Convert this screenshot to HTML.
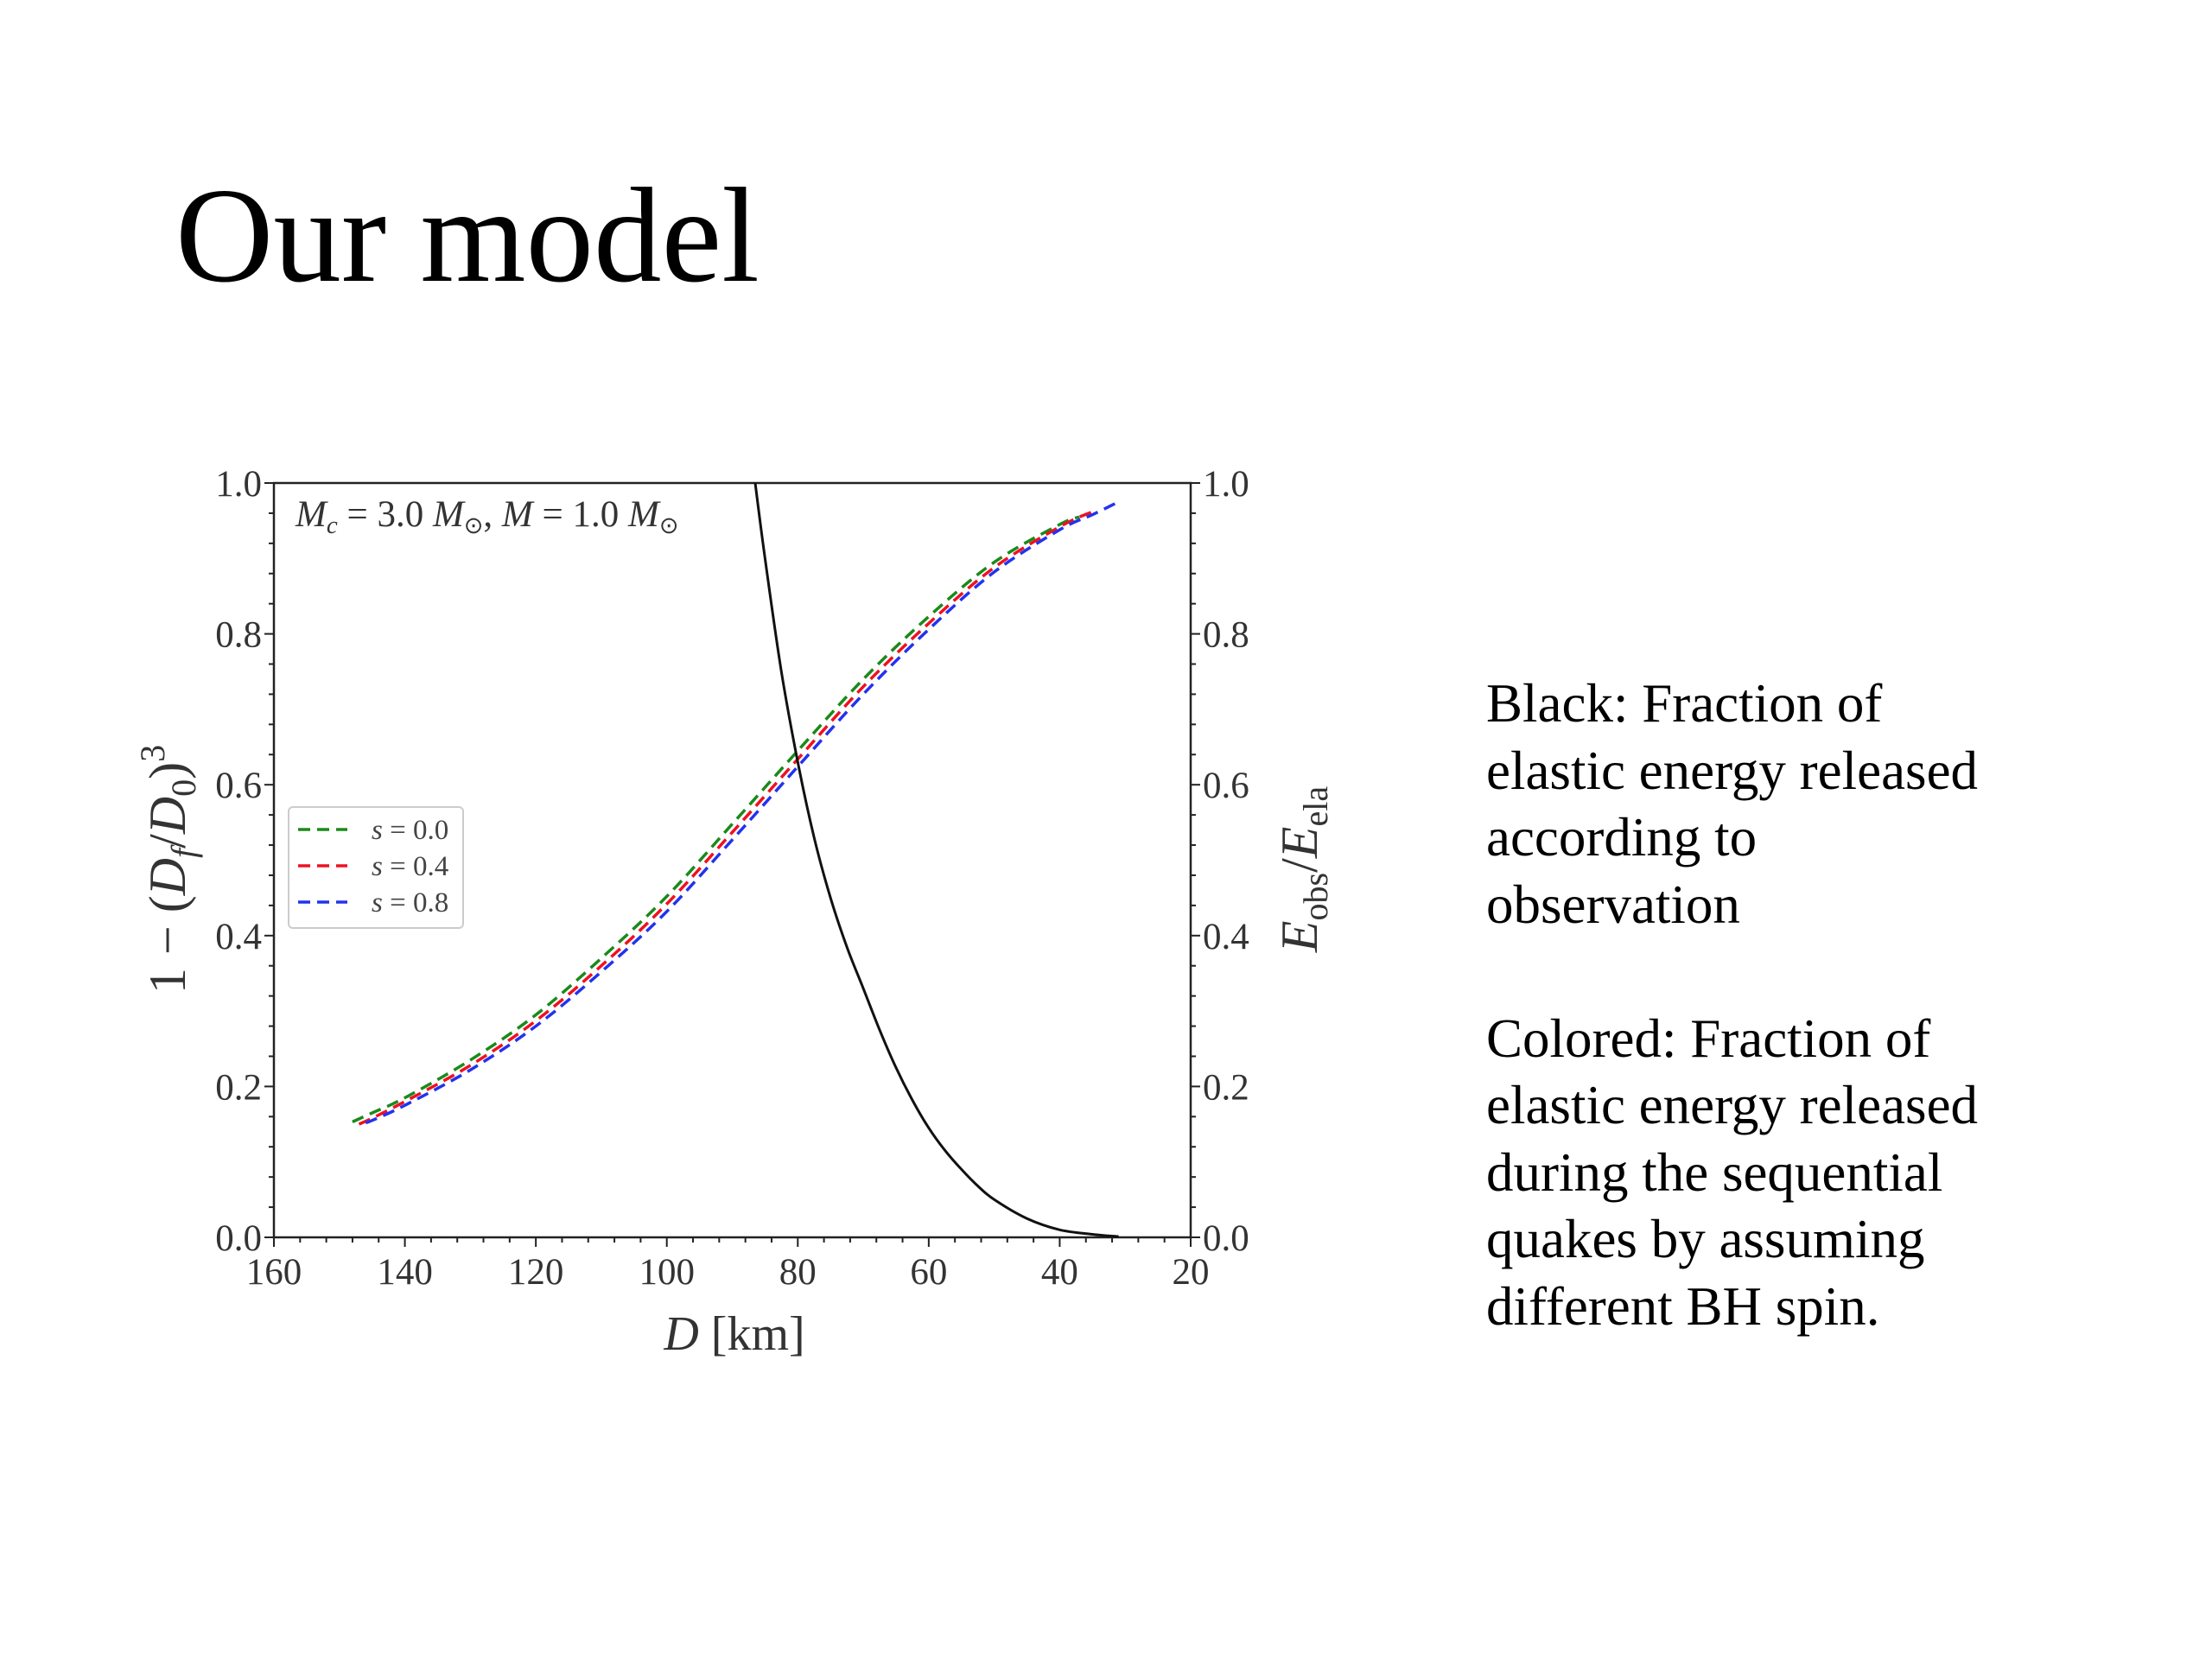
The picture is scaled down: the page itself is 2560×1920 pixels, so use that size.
<!DOCTYPE html>
<html><head><meta charset="utf-8"><style>
html,body{margin:0;padding:0;background:#fff;}
body{width:2560px;height:1920px;position:relative;overflow:hidden;font-family:"Liberation Serif",serif;}
#title{position:absolute;left:203px;top:194px;font-size:157px;line-height:1;margin:0;font-weight:normal;color:#000;}
#desc{position:absolute;left:1720px;top:776px;font-size:63px;line-height:77.5px;color:#000;}
#desc p{margin:0 0 77.5px 0;}
svg{position:absolute;left:0;top:0;}
</style></head><body>
<h1 id="title">Our model</h1>
<div id="desc">
<p>Black: Fraction of<br>elastic energy released<br>according to<br>observation</p>
<p>Colored: Fraction of<br>elastic energy released<br>during the sequential<br>quakes by assuming<br>different BH spin.</p>
</div>
<svg id="chart" width="2560" height="1920" font-family="Liberation Serif, serif"></svg>
<script>
const xTicks=[160,140,120,100,80,60,40,20];
const yTicks=[0.0,0.2,0.4,0.6,0.8,1.0];
const greenD=[148,145,140,130,120,110,100,90,80,70,60,50,40,37];
const greenV=[0.153,0.165,0.185,0.235,0.295,0.37,0.452,0.548,0.645,0.74,0.823,0.895,0.945,0.955];
const redD=[147,145,140,130,120,110,100,90,80,70,60,50,40,35];
const redV=[0.150,0.158,0.180,0.228,0.287,0.36,0.442,0.537,0.634,0.73,0.814,0.888,0.942,0.962];
const blueD=[146,145,140,130,120,110,100,90,80,70,60,50,40,35,31];
const blueV=[0.152,0.155,0.175,0.222,0.28,0.352,0.432,0.527,0.624,0.72,0.806,0.882,0.938,0.958,0.975];
const blackD=[86.5,85,82.5,80,77.5,75,72.5,70,67.5,65,62.5,60,57.5,55,52.5,50,45,40,35,31];
const blackV=[1.0,0.90,0.75,0.63,0.53,0.45,0.385,0.33,0.275,0.225,0.182,0.145,0.115,0.09,0.068,0.05,0.025,0.01,0.004,0.001];
const L=317,R=1378,T=559,B=1432;
const sx=d=>L+(160-d)/(160-20)*(R-L);
const sy=v=>B-v*(B-T);
const svg=document.getElementById('chart');
const NS='http://www.w3.org/2000/svg';
function mk(tag,attrs,parent){const e=document.createElementNS(NS,tag);for(const k in attrs)e.setAttribute(k,attrs[k]);(parent||svg).appendChild(e);return e;}
for(let i=0;i<=25;i++){const v=i*0.04;const major=i%5===0;const len=major?11:6;
 let t=mk('line',{x1:L-len,x2:L,y1:sy(v),y2:sy(v),stroke:'#222','stroke-width':2});
 
 
 let t2=mk('line',{x1:R,x2:R+len,y1:sy(v),y2:sy(v),stroke:'#222','stroke-width':2});
 
 
}
for(let d=160;d>=20;d-=4){const major=(d%20===0);const len=major?11:6;
 let t=mk('line',{x1:sx(d),x2:sx(d),y1:B,y2:B+len,stroke:'#222','stroke-width':2});
 
 
}
xTicks.forEach(d=>{let t=mk('text',{x:sx(d),y:B+54,'text-anchor':'middle','font-size':43,fill:'#333'});t.textContent=d;
 
 });
yTicks.forEach(v=>{let t=mk('text',{x:L-14,y:sy(v)+15,'text-anchor':'end','font-size':43,fill:'#333'});t.textContent=v.toFixed(1);
 
 
 let t2=mk('text',{x:R+14,y:sy(v)+15,'text-anchor':'start','font-size':43,fill:'#333'});t2.textContent=v.toFixed(1);
 
 });
let fr=mk('rect',{x:L,y:T,width:R-L,height:B-T,fill:'none',stroke:'#222','stroke-width':2.5});


function line(D,V,color,dash,name){
 const P=D.map((d,i)=>[sx(d),sy(V[i])]);
 let p='M'+P[0][0].toFixed(1)+','+P[0][1].toFixed(1);
 for(let i=0;i<P.length-1;i++){const p0=P[i-1]||P[i],p1=P[i],p2=P[i+1],p3=P[i+2]||P[i+1];
  const c1=[p1[0]+(p2[0]-p0[0])/6,p1[1]+(p2[1]-p0[1])/6],c2=[p2[0]-(p3[0]-p1[0])/6,p2[1]-(p3[1]-p1[1])/6];
  p+=' C'+c1[0].toFixed(1)+','+c1[1].toFixed(1)+' '+c2[0].toFixed(1)+','+c2[1].toFixed(1)+' '+p2[0].toFixed(1)+','+p2[1].toFixed(1);}
 const e=mk('path',{d:p,fill:'none',stroke:color,'stroke-width':dash?3.5:3,'stroke-dasharray':dash||'none'});
 
 }
line(greenD,greenV,'#1a8a1a','14,8','series-s0.0');
line(redD,redV,'#ee1122','14,8','series-s0.4');
line(blueD,blueV,'#2233ee','14,8','series-s0.8');
line(blackD,blackV,'#111','','series-observation');
let an=mk('text',{x:342,y:609,'font-size':43,fill:'#333','font-style':'italic'});
an.innerHTML='M<tspan font-size="29" dy="8">c</tspan><tspan dy="-8" font-style="normal"> = 3.0 </tspan>M<tspan font-size="27" dy="8" font-style="normal">⊙</tspan><tspan dy="-8" font-style="normal">, </tspan>M<tspan font-style="normal"> = 1.0 </tspan>M<tspan font-size="27" dy="8" font-style="normal">⊙</tspan>';


const lg=mk('g',{});


mk('rect',{x:334,y:934,width:202,height:140,rx:5,fill:'#fff',stroke:'#ccc','stroke-width':2},lg);
const legLabels=['s = 0.0','s = 0.4','s = 0.8'];
const legColors=['#1a8a1a','#ee1122','#2233ee'];
legLabels.forEach((lab,i)=>{const y=960+i*42;
 let l=mk('line',{x1:345,x2:402,y1:y,y2:y,stroke:legColors[i],'stroke-width':3.5,'stroke-dasharray':'14,8'},lg);
 
 
 let t=mk('text',{x:430,y:y+11,'font-size':33,fill:'#444'},lg);
 t.innerHTML='<tspan font-style="italic">s</tspan> = '+lab.split('= ')[1];
 
 });
let yl=mk('text',{x:0,y:0,'font-size':60,fill:'#333','text-anchor':'middle',transform:'translate(214,1006) rotate(-90)'});
yl.innerHTML='1 − (<tspan font-style="italic">D</tspan><tspan font-size="40" dy="12" font-style="italic">f</tspan><tspan dy="-12">/</tspan><tspan font-style="italic">D</tspan><tspan font-size="40" dy="12">0</tspan><tspan dy="-12">)</tspan><tspan font-size="40" dy="-24">3</tspan>';


let yr=mk('text',{x:0,y:0,'font-size':60,fill:'#333','text-anchor':'middle',transform:'translate(1524,1006) rotate(-90)'});
yr.innerHTML='<tspan font-style="italic">E</tspan><tspan font-size="40" dy="12">obs</tspan><tspan dy="-12">/</tspan><tspan font-style="italic">E</tspan><tspan font-size="40" dy="12">ela</tspan>';


let xl=mk('text',{x:850,y:1562,'font-size':56,fill:'#333','text-anchor':'middle'});
xl.innerHTML='<tspan font-style="italic">D</tspan> [km]';


</script>
</body></html>
